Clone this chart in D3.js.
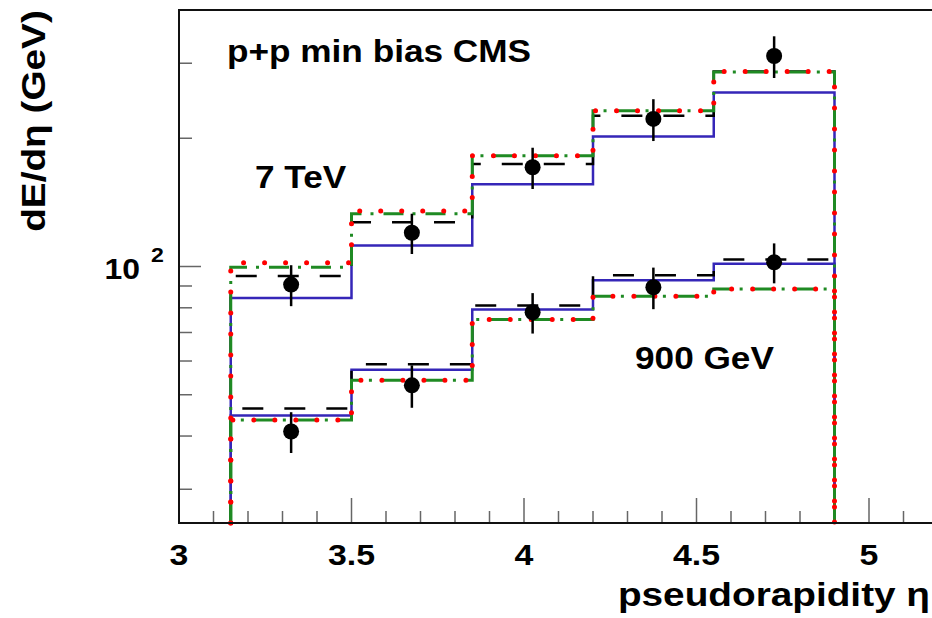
<!DOCTYPE html>
<html>
<head>
    <title>dE/deta vs pseudorapidity</title>
    <script src="https://d3js.org/d3.v7.min.js"></script>
    <style>
      body { margin: 0; background: #fff; }
      text { font-family: "Liberation Sans", Arial, Helvetica, sans-serif; font-weight: bold; fill: #000; }
    </style>
</head>

<body>
  <div id="vis"></div>
</body>

<script>
  // bin edges of the histograms (pseudorapidity)
  var binEdges = [3.15, 3.5, 3.85, 4.2, 4.55, 4.9]
  var etaCenters = [3.325, 3.675, 4.025, 4.375, 4.725]

  // 7 TeV curves
  var tev7Blue  = [84.3, 112, 156, 202, 256]
  var tev7Black = [95, 127, 174, 226, 287]
  var tev7Green = [99.6, 133, 182, 232, 286]
  var tev7Red   = [102, 135, 182, 232, 287]
  // 900 GeV curves
  var gev900Blue  = [44.7, 57.2, 79.3, 92.9, 101.5]
  var gev900Black = [46.4, 59, 81, 95.4, 103.8]
  var gev900Green = [43.6, 54.1, 75.1, 85.2, 88.6]
  var gev900Red   = [43.6, 54.1, 75.1, 85.2, 88.6]

  // CMS points
  var data7 = [90.7, 120, 171, 222, 312]
  var err7 = [10, 13, 19, 25, 35]
  var data900 = [41, 52.6, 78.1, 89.4, 102.3]
  var err900 = [4.5, 6, 8.5, 10, 11]

  // axis ticks
  var xLabels = [3, 3.5, 4, 4.5, 5]
  var yMinorTicks = [30, 40, 50, 60, 70, 80, 90, 200, 300]

  var width = 932, height = 618
  var padL = 179, padR = 938, padT = 10, padB = 523

  var svg = d3.select("#vis").append("svg")
      .attr("width", width)
      .attr("height", height)

  var x = d3.scaleLinear().domain([3, 5.2]).range([padL, padR])
  var y = d3.scaleLog().domain([25, 400]).range([padB, padT])

  // x ticks: minor each 0.1, major each 0.5
  var xTicks = d3.range(30, 53).map(function(d) { return d / 10 })
  svg.append("g").selectAll("line")
    .data(xTicks)
    .enter().append("line")
      .attr("x1", function(d) { return x(d) })
      .attr("x2", function(d) { return x(d) })
      .attr("y1", padB)
      .attr("y2", function(d) { return Math.abs(d * 2 - Math.round(d * 2)) < 1e-6 ? padB - 25 : padB - 12 })
      .attr("stroke", "#666")
      .attr("stroke-width", 1.5)

  // y ticks
  svg.append("g").selectAll("line")
    .data(yMinorTicks)
    .enter().append("line")
      .attr("x1", padL).attr("x2", padL + 13)
      .attr("y1", function(d) { return y(d) })
      .attr("y2", function(d) { return y(d) })
      .attr("stroke", "#666")
      .attr("stroke-width", 1.5)
  svg.append("line")
      .attr("x1", padL).attr("x2", padL + 22)
      .attr("y1", y(100)).attr("y2", y(100))
      .attr("stroke", "#666")
      .attr("stroke-width", 1.5)

  // histogram as a step path that drops to the bottom at both edges
  function stepPoints(vals) {
    var lo = y.domain()[0]
    var pts = [[binEdges[0], lo]]
    for (var i = 0; i < vals.length; i++) {
      pts.push([binEdges[i], vals[i]])
      pts.push([binEdges[i + 1], vals[i]])
    }
    pts.push([binEdges[binEdges.length - 1], lo])
    return pts
  }

  var line = d3.line()
      .x(function(d) { return x(d[0]) })
      .y(function(d) { return y(d[1]) })

  var styles = {
    blue:  { stroke: "#3526b8", width: 2.5, dash: null, cap: "butt" },
    black: { stroke: "#000", width: 2.5, dash: "21,21", cap: "butt" },
    green: { stroke: "#1f8a23", width: 3, dash: "20,9,3,10", cap: "butt" },
    red:   { stroke: "#ff0000", width: 5, dash: "0,21", cap: "round" }
  }

  var hists = [
    [tev7Blue, "blue"], [gev900Blue, "blue"],
    [tev7Black, "black"], [gev900Black, "black"],
    [tev7Green, "green"], [gev900Green, "green"],
    [tev7Red, "red"], [gev900Red, "red"]
  ]

  svg.append("g").selectAll("path")
    .data(hists)
    .enter().append("path")
      .attr("d", function(d) { return line(stepPoints(d[0])) })
      .attr("fill", "none")
      .attr("stroke", function(d) { return styles[d[1]].stroke })
      .attr("stroke-width", function(d) { return styles[d[1]].width })
      .attr("stroke-dasharray", function(d) { return styles[d[1]].dash })
      .attr("stroke-linecap", function(d) { return styles[d[1]].cap })

  // frame
  svg.append("rect")
      .attr("x", padL).attr("y", padT)
      .attr("width", padR - padL).attr("height", padB - padT)
      .attr("fill", "none")
      .attr("stroke", "#111")
      .attr("stroke-width", 2)

  // data points with error bars
  function drawPoints(vals, errs) {
    var pts = vals.map(function(v, i) { return { eta: etaCenters[i], v: v, e: errs[i] } })
    var g = svg.append("g")
    g.selectAll("line")
      .data(pts)
      .enter().append("line")
        .attr("x1", function(d) { return x(d.eta) })
        .attr("x2", function(d) { return x(d.eta) })
        .attr("y1", function(d) { return y(d.v + d.e) })
        .attr("y2", function(d) { return y(d.v - d.e) })
        .attr("stroke", "#000")
        .attr("stroke-width", 2.5)
    g.selectAll("circle")
      .data(pts)
      .enter().append("circle")
        .attr("cx", function(d) { return x(d.eta) })
        .attr("cy", function(d) { return y(d.v) })
        .attr("r", 8)
        .attr("fill", "#000")
  }
  drawPoints(data7, err7)
  drawPoints(data900, err900)

  // text helper, fonts are drawn a bit wider like the original
  function label(txt, tx, ty, size, anchor, sx, rot) {
    return svg.append("text")
      .attr("transform", "translate(" + tx + "," + ty + ")" + (rot ? " rotate(" + rot + ")" : "") + " scale(" + sx + ",1)")
      .attr("text-anchor", anchor)
      .style("font-size", size + "px")
      .text(txt)
  }

  xLabels.forEach(function(d) {
    label(d, x(d), 565, 30, "middle", 1.13)
  })

  label("10", 140, 279, 29, "end", 1.1)
  label("2", 151, 262, 21, "start", 1.1)

  label("pseudorapidity \u03b7", 930, 606, 34, "end", 1.14)
  label("dE/d\u03b7 (GeV)", 45, 121, 34, "middle", 1.14, -90)

  label("p+p min bias CMS", 227, 62, 32, "start", 1.1)
  label("7 TeV", 255, 188, 32, "start", 1.1)
  label("900 GeV", 635, 369, 32, "start", 1.1)
</script>
</html>
